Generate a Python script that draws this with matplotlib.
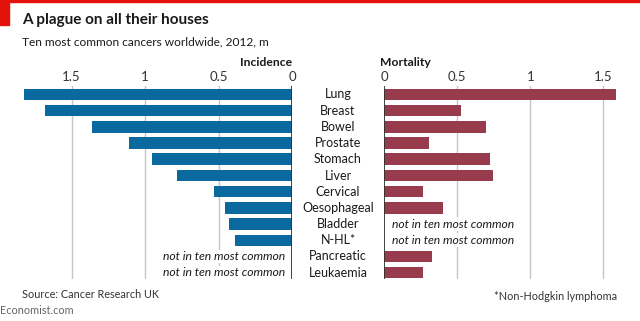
import matplotlib

matplotlib.use("Agg")
import matplotlib.pyplot as plt
from matplotlib.patches import Rectangle
import numpy as np

plt.rcParams["font.family"] = ["Lato", "DejaVu Sans"]

cancers = ["Lung", "Breast", "Bowel", "Prostate", "Stomach", "Liver", "Cervical",
           "Oesophageal", "Bladder", "N-HL*", "Pancreatic", "Leukaemia"]
# m cases, 2012; None = not in ten most common
incidence = [1.825, 1.677, 1.361, 1.112, 0.952, 0.782, 0.528, 0.456, 0.430, 0.386, None, None]
mortality = [1.590, 0.522, 0.694, 0.307, 0.723, 0.745, 0.266, 0.400, None, None, 0.330, 0.265]
ticks = [0, 0.5, 1, 1.5]
tick_labels = ["0", "0.5", "1", "1.5"]

BLUE = "#0a6a9f"
RED = "#973b4d"
GRID = "#c6c6c6"
TEXT = "#1a1a1a"
NOTE = "not in ten most common"

W, H = 640, 321
fig = plt.figure(figsize=(W / 100, H / 100), dpi=100)


def frac(x0, y0, x1, y1):
    return [x0 / W, 1 - y1 / H, (x1 - x0) / W, (y1 - y0) / H]


ax_l = fig.add_axes(frac(20, 86, 292, 279))
ax_r = fig.add_axes(frac(384.3, 86, 620, 279))

for ax, vals, color in [(ax_l, incidence, BLUE), (ax_r, mortality, RED)]:
    for t in ticks[1:]:
        ax.axvline(t, color=GRID, lw=1, zorder=0)
    ax.axvline(0, color="#333333", lw=1.3, zorder=3)
    for i, v in enumerate(vals):
        if v is None:
            continue
        ax.barh(i, v, height=0.71, color=color, zorder=2)
    ax.set_ylim(11.39, -0.52)
    ax.set_yticks([])
    ax.xaxis.tick_top()
    ax.set_xticks(ticks, tick_labels)
    ax.tick_params(axis="x", length=0, pad=2, labelsize=9.5, labelcolor="#333333")
    for s in ax.spines.values():
        s.set_visible(False)
    ax.patch.set_alpha(0)

ax_l.set_xlim(272 / 147, 0)
ax_r.set_xlim(0, 235.7 / 146)

for i, v in enumerate(incidence):
    if v is None:
        ax_l.text(0.045, i, NOTE, ha="right", va="center", style="italic", fontsize=8.7,
                  color=TEXT, zorder=4,
                  bbox=dict(facecolor="white", edgecolor="none", pad=1))
for i, v in enumerate(mortality):
    if v is None:
        ax_r.text(0.05, i, NOTE, ha="left", va="center", style="italic", fontsize=8.7,
                  color=TEXT, zorder=4,
                  bbox=dict(facecolor="white", edgecolor="none", pad=1))

for i, name in enumerate(cancers):
    fig.text(338 / W, 1 - (94.5 + 16.2 * i) / H, name, ha="center", va="center",
             fontsize=9, color=TEXT)

fig.text(292 / W, 1 - 63 / H, "Incidence", ha="right", va="center",
         fontsize=8.7, fontweight="bold", color=TEXT)
fig.text(380 / W, 1 - 63 / H, "Mortality", ha="left", va="center",
         fontsize=8.7, fontweight="bold", color=TEXT)

fig.text(22 / W, 1 - 20 / H, "A plague on all their houses", ha="left", va="center",
         fontsize=11, fontweight="bold", color=TEXT)
fig.text(22 / W, 1 - 42 / H, "Ten most common cancers worldwide, 2012, m", ha="left",
         va="center", fontsize=8.6, color=TEXT)

fig.text(22 / W, 1 - 295 / H, "Source: Cancer Research UK", ha="left", va="center",
         fontsize=7.8, color="#333333")
fig.text(617 / W, 1 - 296 / H, "*Non-Hodgkin lymphoma", ha="right", va="center",
         fontsize=7.8, color="#333333")
fig.text(0, 1 - 310 / H, "Economist.com", ha="left", va="center",
         fontsize=7.8, color="#666666")

fig.patches.append(Rectangle((0, 1 - 25 / H), 9 / W, 25 / H, transform=fig.transFigure,
                             color="#e3120b", zorder=5))
fig.patches.append(Rectangle((0, 1 - 1.5 / H), 1, 1.5 / H, transform=fig.transFigure,
                             color="#e3120b", zorder=5))

fig.savefig("out.png", dpi=100)
